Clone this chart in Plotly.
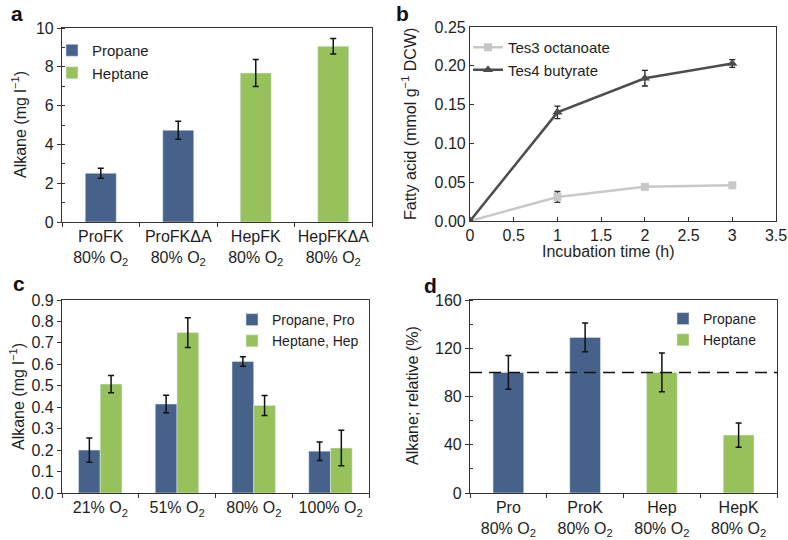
import plotly.graph_objects as go

# ---------------- data ----------------
# panel a
a_cats = ["ProFK<br>80% O<sub>2</sub>", "ProFKΔA<br>80% O<sub>2</sub>",
          "HepFK<br>80% O<sub>2</sub>", "HepFKΔA<br>80% O<sub>2</sub>"]
a_pro_vals = [2.51, 4.73]
a_pro_err = [0.26, 0.46]
a_hep_vals = [7.68, 9.06]
a_hep_err = [0.70, 0.40]

# panel b
b_time = [0, 1, 2, 3]
b_tes3 = [0.0, 0.031, 0.044, 0.046]
b_tes3_err = [0.0, 0.007, 0.002, 0.003]
b_tes4 = [0.0, 0.140, 0.184, 0.203]
b_tes4_err = [0.0, 0.008, 0.010, 0.005]

# panel c
c_cats = ["21% O<sub>2</sub>", "51% O<sub>2</sub>", "80% O<sub>2</sub>", "100% O<sub>2</sub>"]
c_pro = [0.20, 0.415, 0.613, 0.195]
c_pro_err = [0.057, 0.041, 0.022, 0.043]
c_hep = [0.508, 0.748, 0.408, 0.21]
c_hep_err = [0.040, 0.069, 0.047, 0.083]

# panel d
d_cats = ["Pro<br>80% O<sub>2</sub>", "ProK<br>80% O<sub>2</sub>",
          "Hep<br>80% O<sub>2</sub>", "HepK<br>80% O<sub>2</sub>"]
d_pro = [100, 129]
d_pro_err = [14, 12]
d_hep = [100, 48]
d_hep_err = [16, 10]
d_ref = 100

BLUE = "#47628a"
GREEN = "#97c25b"
AX = "#333333"
TXT = "#1e1e1e"
FONT = "Liberation Sans, Arial, sans-serif"
W, H = 788, 540

def dx(p0, p1):
    return [p0 / W, p1 / W]

def dy(top, bottom):
    return [1 - bottom / H, 1 - top / H]

def px(x):
    return x / W

def py(y):
    return 1 - y / H

err_style = dict(type="data", color="#111111", thickness=1.5, width=3)

fig = go.Figure()

# ---- panel a ----
fig.add_trace(go.Bar(x=a_cats[:2], y=a_pro_vals, name="Propane", marker_color=BLUE,
                     width=0.4, offset=-0.2, xaxis="x", yaxis="y", legend="legend",
                     legendgroup="a1", error_y=dict(array=a_pro_err, **err_style)))
fig.add_trace(go.Bar(x=a_cats[2:], y=a_hep_vals, name="Heptane", marker_color=GREEN,
                     width=0.4, offset=-0.2, xaxis="x", yaxis="y", legend="legend",
                     legendgroup="a2", error_y=dict(array=a_hep_err, **err_style)))

# ---- panel b ----
fig.add_trace(go.Scatter(x=b_time, y=b_tes3, name="Tes3 octanoate", mode="lines+markers",
                         line=dict(color="#c8c8c8", width=2.5),
                         marker=dict(symbol="square", size=8, color="#c8c8c8"),
                         error_y=dict(array=b_tes3_err, type="data", color="#333333", thickness=1.3, width=3),
                         xaxis="x2", yaxis="y2", legend="legend2", legendgroup="b1"))
fig.add_trace(go.Scatter(x=b_time, y=b_tes4, name="Tes4 butyrate", mode="lines+markers",
                         line=dict(color="#4d4d4d", width=2.5),
                         marker=dict(symbol="triangle-up", size=9, color="#4d4d4d"),
                         error_y=dict(array=b_tes4_err, type="data", color="#222222", thickness=1.3, width=3),
                         xaxis="x2", yaxis="y2", legend="legend2", legendgroup="b2"))

# ---- panel c ----
fig.add_trace(go.Bar(x=c_cats, y=c_pro, name="Propane, Pro", marker_color=BLUE,
                     width=0.283, offset=-0.285, xaxis="x3", yaxis="y3", legend="legend3",
                     legendgroup="c1", error_y=dict(array=c_pro_err, **err_style)))
fig.add_trace(go.Bar(x=c_cats, y=c_hep, name="Heptane, Hep", marker_color=GREEN,
                     width=0.283, offset=-0.002, xaxis="x3", yaxis="y3", legend="legend3",
                     legendgroup="c2", error_y=dict(array=c_hep_err, **err_style)))

# ---- panel d ----
fig.add_trace(go.Bar(x=d_cats[:2], y=d_pro, name="Propane", marker_color=BLUE,
                     width=0.4, offset=-0.2, xaxis="x4", yaxis="y4", legend="legend4",
                     legendgroup="d1", error_y=dict(array=d_pro_err, **err_style)))
fig.add_trace(go.Bar(x=d_cats[2:], y=d_hep, name="Heptane", marker_color=GREEN,
                     width=0.4, offset=-0.2, xaxis="x4", yaxis="y4", legend="legend4",
                     legendgroup="d2", error_y=dict(array=d_hep_err, **err_style)))

fig.add_shape(type="line", xref="x4 domain", yref="y4", x0=0, x1=1, y0=d_ref, y1=d_ref,
              line=dict(color="#111111", width=1.5, dash="12px,7px"))

tickfont = dict(family=FONT, size=16, color=TXT)

def cat_xaxis(domain, anchor, cats):
    return dict(domain=domain, anchor=anchor, type="category", categoryorder="array",
                categoryarray=cats, range=[-0.5, 3.5], showline=True, linecolor=AX, linewidth=1.2,
                mirror=True, ticks="outside", tickson="boundaries", ticklen=4, tickcolor=AX,
                tickangle=0, tickfont=tickfont, showgrid=False, zeroline=False, fixedrange=True)

def val_yaxis(domain, anchor, rng, dtick, fmt=None, minor=None):
    d = dict(domain=domain, anchor=anchor, range=rng, dtick=dtick, tick0=0,
             showline=True, linecolor=AX, linewidth=1.2, mirror=True, ticks="outside",
             ticklen=4, tickcolor=AX, tickfont=tickfont, showgrid=False, zeroline=False)
    if fmt:
        d["tickformat"] = fmt
    if minor:
        d["minor"] = dict(dtick=minor, ticks="inside", ticklen=3, tickcolor=AX, showgrid=False)
    return d

def leg(x, y, size):
    return dict(x=px(x), y=py(y), xanchor="left", yanchor="top", bgcolor="rgba(0,0,0,0)",
                font=dict(family=FONT, size=size, color=TXT), tracegroupgap=0)

fig.update_layout(
    width=W, height=H, margin=dict(l=0, r=0, t=0, b=0, autoexpand=False),
    paper_bgcolor="white", plot_bgcolor="white",
    font=dict(family=FONT, size=16, color=TXT),
    barmode="group",
    xaxis=cat_xaxis(dx(62, 372), "y", a_cats),
    yaxis=val_yaxis(dy(28, 222), "x", [0, 10], 2, minor=1),
    xaxis2=dict(domain=dx(470, 776), anchor="y2", range=[0, 3.5], dtick=0.5, tick0=0,
                showline=True, linecolor=AX, linewidth=1.2, mirror=True, ticks="inside",
                ticklen=4, tickcolor=AX, tickfont=tickfont, showgrid=False, zeroline=False),
    yaxis2=dict(domain=dy(27, 221), anchor="x2", range=[0, 0.25], dtick=0.05, tick0=0,
                tickformat=".2f", showline=True, linecolor=AX, linewidth=1.2, mirror=True,
                ticks="inside", ticklen=4, tickcolor=AX, tickfont=tickfont, showgrid=False,
                zeroline=False),
    xaxis3=cat_xaxis(dx(62, 369), "y3", c_cats),
    yaxis3=val_yaxis(dy(300, 493), "x3", [0, 0.9], 0.1, fmt=".1f"),
    xaxis4=cat_xaxis(dx(470, 777), "y4", d_cats),
    yaxis4=val_yaxis(dy(300, 493), "x4", [0, 160], 40, minor=20),
    legend=leg(52, 34, 15),
    legend2=leg(468, 31, 15),
    legend3=leg(232, 304, 14),
    legend4=leg(663, 303, 14),
    showlegend=True,
)

# axis titles
axis_titles = [
    ("Alkane (mg l<sup>−1</sup>)", 19, 125, -90),
    ("Fatty acid (mmol g<sup>−1</sup> DCW)", 409, 124, -90),
    ("Incubation time (h)", 608, 251, 0),
    ("Alkane (mg l<sup>−1</sup>)", 17, 397, -90),
    ("Alkane; relative (%)", 412, 396, -90),
]
for txt, x, y, ang in axis_titles:
    fig.add_annotation(text=txt, x=px(x), y=py(y), xref="paper", yref="paper",
                       xanchor="center", yanchor="middle", textangle=ang, showarrow=False,
                       font=dict(family=FONT, size=16, color=TXT))

# panel letters
for txt, x, y, anchor in [("a", 17, 0, "top"), ("b", 403, 0, "top"),
                          ("c", 19, 283, "middle"), ("d", 431, 285, "middle")]:
    fig.add_annotation(text="<b>%s</b>" % txt, x=px(x), y=py(y), xref="paper", yref="paper",
                       xanchor="center", yanchor=anchor, showarrow=False,
                       font=dict(family=FONT, size=21, color="#111"))

fig.write_html(
    "out.html",
    config={"displayModeBar": False},
    post_script=("document.documentElement.style.overflow='hidden';"
                 "document.body.style.margin='0px';document.body.style.overflow='hidden';"),
)
